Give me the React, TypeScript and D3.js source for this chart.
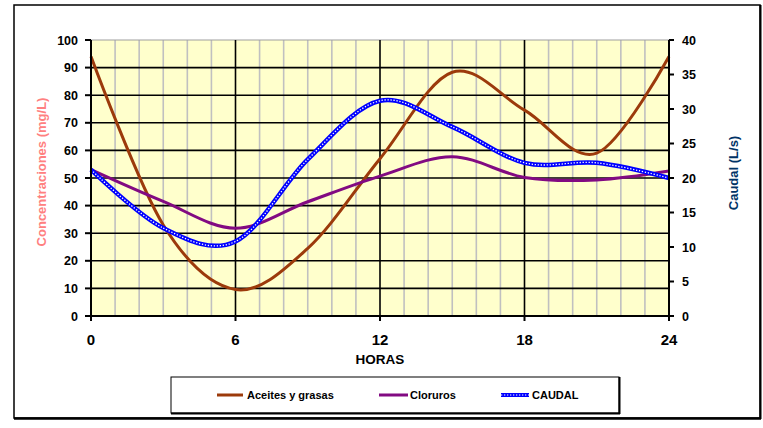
import React from "react";
import * as d3 from "d3";

const HOURS = [0, 3, 6, 9, 12, 15, 18, 21, 24];
const ACEITES = [94, 33, 9.6, 24.5, 57, 88.3, 74.6, 59, 94];
const CLORUROS = [53, 41.5, 31.8, 41.4, 50.7, 57.7, 50.2, 49.3, 52.5];
const CAUDAL = [21.2, 12.75, 10.8, 22.7, 31.2, 27.4, 22.2, 22.2, 20];
const X_TICKS = [0, 6, 12, 18, 24];
const LEFT_TICKS = [0, 10, 20, 30, 40, 50, 60, 70, 80, 90, 100];
const RIGHT_TICKS = [0, 5, 10, 15, 20, 25, 30, 35, 40];
const MINOR_HOURS = [1, 2, 3, 4, 5, 7, 8, 9, 10, 11, 13, 14, 15, 16, 17, 19, 20, 21, 22, 23];
const MAJOR_HOURS = [6, 12, 18];

const FONT = "'Liberation Sans', Arial, sans-serif";

export default function App() {
  const L = 91, R = 669, T = 40, B = 316;
  const x = d3.scaleLinear().domain([0, 24]).range([L, R]);
  const yL = d3.scaleLinear().domain([0, 100]).range([B, T]);
  const yR = d3.scaleLinear().domain([0, 40]).range([B, T]);
  const curve = d3.curveCardinal.tension(0);
  const lineL = d3.line<number>().x((_, i) => x(HOURS[i])).y((d) => yL(d)).curve(curve);
  const lineR = d3.line<number>().x((_, i) => x(HOURS[i])).y((d) => yR(d)).curve(curve);

  const brown = "#9C3A0B";
  const purple = "#820A82";
  const blue = "#0000FF";

  return (
    <svg width={763} height={428} style={{ position: "absolute", left: 0, top: 0, background: "#fff" }} fontFamily={FONT}>
      {/* outer frame */}
      <rect x={14} y={5} width={746} height={413} fill="#fff" stroke="#000" strokeWidth={1.5} />
      <line x1={14} x2={761} y1={418.5} y2={418.5} stroke="#000" strokeWidth={2.5} />
      <line x1={760.5} x2={760.5} y1={5} y2={419} stroke="#000" strokeWidth={2} />

      {/* plot area */}
      <rect x={L} y={T} width={R - L} height={B - T} fill="#FFFFCC" />
      {MINOR_HOURS.map((h) => (
        <line key={"mv" + h} x1={x(h)} x2={x(h)} y1={T} y2={B} stroke="#C0C0C0" strokeWidth={1.6} />
      ))}
      <line x1={L} x2={R} y1={T} y2={T} stroke="#A0A0A0" strokeWidth={1.2} />
      {LEFT_TICKS.filter((v) => v > 0 && v < 100).map((v) => (
        <line key={"hg" + v} x1={L} x2={R} y1={yL(v)} y2={yL(v)} stroke="#000" strokeWidth={1.6} />
      ))}
      {MAJOR_HOURS.map((h) => (
        <line key={"Mv" + h} x1={x(h)} x2={x(h)} y1={T} y2={B} stroke="#000" strokeWidth={1.6} />
      ))}

      {/* series */}
      <path d={lineL(ACEITES) || ""} fill="none" stroke={brown} strokeWidth={3} />
      <path d={lineL(CLORUROS) || ""} fill="none" stroke={purple} strokeWidth={3} />
      <path d={lineR(CAUDAL) || ""} fill="none" stroke={blue} strokeWidth={4.5} />
      <path d={lineR(CAUDAL) || ""} fill="none" stroke="#fff" strokeWidth={1.3} strokeDasharray="1.3 1.7" />

      {/* axes */}
      <line x1={L} x2={L} y1={T} y2={B + 5} stroke="#000" strokeWidth={2} />
      <line x1={R} x2={R} y1={T} y2={B + 5} stroke="#000" strokeWidth={2} />
      <line x1={L - 6} x2={R + 5} y1={B} y2={B} stroke="#000" strokeWidth={2} />
      {LEFT_TICKS.map((v) => (
        <g key={"lt" + v}>
          <line x1={L - 6} x2={L} y1={yL(v)} y2={yL(v)} stroke="#000" strokeWidth={2} />
          <text x={78} y={yL(v)} dy="0.36em" textAnchor="end" fontSize={12.5} fontWeight="bold">{v}</text>
        </g>
      ))}
      {RIGHT_TICKS.map((v) => (
        <g key={"rt" + v}>
          <line x1={R} x2={R + 5} y1={yR(v)} y2={yR(v)} stroke="#000" strokeWidth={2} />
          <text x={682} y={yR(v)} dy="0.36em" textAnchor="start" fontSize={12.5} fontWeight="bold">{v}</text>
        </g>
      ))}
      {X_TICKS.map((h) => (
        <g key={"xt" + h}>
          <line x1={x(h)} x2={x(h)} y1={B} y2={B + 5} stroke="#000" strokeWidth={2} />
          <text x={x(h)} y={345} textAnchor="middle" fontSize={15} fontWeight="bold">{h}</text>
        </g>
      ))}
      <text x={380} y={364} textAnchor="middle" fontSize={13.5} fontWeight="bold">HORAS</text>
      <text transform="translate(46,172) rotate(-90)" textAnchor="middle" fontSize={13} fontWeight="bold" fill="#FF8080">Concentraciones (mg/L)</text>
      <text transform="translate(738,173) rotate(-90)" textAnchor="middle" fontSize={13} fontWeight="bold" fill="#003366">Caudal (L/s)</text>

      {/* legend */}
      <rect x={171} y={377} width={448} height={36} fill="#fff" stroke="#000" strokeWidth={1} />
      <line x1={171} x2={620} y1={413.5} y2={413.5} stroke="#000" strokeWidth={2} />
      <line x1={619.5} x2={619.5} y1={377} y2={414} stroke="#000" strokeWidth={2} />
      <line x1={217} x2={243} y1={395} y2={395} stroke={brown} strokeWidth={3} />
      <text x={247} y={399} fontSize={11} fontWeight="bold">Aceites y grasas</text>
      <line x1={379} x2={408} y1={395} y2={395} stroke={purple} strokeWidth={3} />
      <text x={410} y={399} fontSize={11} fontWeight="bold">Cloruros</text>
      <line x1={501} x2={529} y1={395} y2={395} stroke={blue} strokeWidth={4} />
      <line x1={501} x2={529} y1={395} y2={395} stroke="#fff" strokeWidth={1.1} strokeDasharray="1.3 1.7" />
      <text x={532} y={399} fontSize={11} fontWeight="bold">CAUDAL</text>
    </svg>
  );
}
